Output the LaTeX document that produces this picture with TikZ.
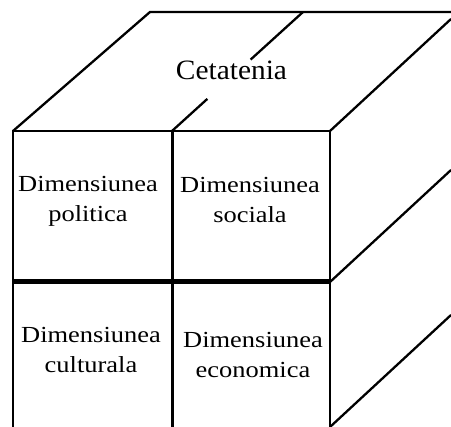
\documentclass[tikz,border=0pt]{standalone}
\usepackage{fontspec}
\setmainfont{Liberation Serif}
\newfontfamily\cellfont[FakeStretch=1.15]{Liberation Serif}
\newfontfamily\topfont[FakeStretch=1.05]{Liberation Serif}
\usetikzlibrary{
	calc,
	positioning
}

\tikzset{
	edge/.style={line width=2.3pt},
	divide/.style={line width=3pt},
	split/.style={line width=5pt},
	dim/.style={font=\cellfont\fontsize{23}{30}\selectfont, align=center, inner sep=0pt}
}

\begin{document}
\begin{tikzpicture}[x=1pt, y=-1pt]
		\useasboundingbox (0,0) rectangle (451,427);
		\clip (0,0) rectangle (451,427);

		% corners of the cube
		\coordinate (fl) at (13,131);
		\coordinate (fm) at (172,131);
		\coordinate (fr) at (330,131);
		\coordinate (bl) at (150,12);
		\coordinate (bm) at (303,12);

		\draw[edge] (13,440) -- (fl) -- (fr) -- (330,440);
		\draw[edge] (fl) -- (bl) -- (470,12);
		\draw[edge] (fr) -- ++(121,-112);
		\draw[edge] (330,282) -- ++(121,-112);
		\draw[edge] (330,427) -- ++(121,-112);
		\draw[divide] (fm) -- (172,440);
		\draw[split] (13,282) -- (330,282);
		\draw[edge] (bm) -- ($(bm)!0.4!(fm)$);
		\draw[edge] ($(bm)!0.73!(fm)$) -- (fm);

		\node[font=\topfont\fontsize{28}{34}\selectfont, anchor=base] (cet) at (231.5,80) {Cetatenia};
		\node[dim] (pol) at (88,201.5) {Dimensiunea\\politica};
		\node[dim] (soc) at (250,200) {Dimensiunea\\sociala};
		\node[dim] (cult) at (91,350) {Dimensiunea\\culturala};
		\node[dim] (eco) at (253,355) {Dimensiunea\\economica};
	\end{tikzpicture}
\end{document}
